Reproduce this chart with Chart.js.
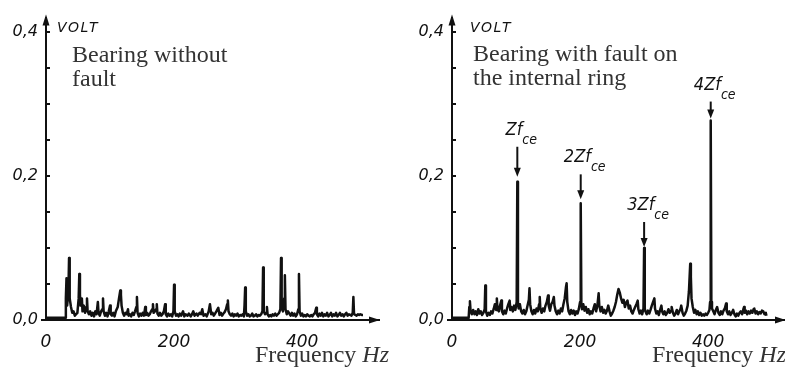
<!DOCTYPE html>
<html>
<head>
<meta charset="utf-8">
<script src="https://cdn.jsdelivr.net/npm/chart.js@4.4.1/dist/chart.umd.min.js"></script>
<style>
  body { margin: 0; background: #fff; }
  .wrap { position: relative; width: 785px; height: 370px; }
  canvas { position: absolute; top: 0; }
</style>
</head>
<body>
<div class="wrap">
  <canvas id="left" width="392" height="370" style="left:0"></canvas>
  <canvas id="right" width="393" height="370" style="left:392px"></canvas>
</div>
<script>
// spectrum of the healthy bearing: [frequency Hz, volt]
const leftSpectrum = [
  [0,0.003],[30,0.003],[31,0.03],[32,0.058],[33,0.02],[35,0.04],[36,0.086],[37,0.03],[39,0.018],[41,0.01],
  [43,0.012],[45,0.006],[47,0.008],[49,0.01],[51,0.03],[52,0.064],[53,0.035],[54,0.02],[56,0.03],[57,0.012],
  [59,0.02],[61,0.01],[63,0.018],[64,0.03],[65,0.012],[67,0.008],[69,0.012],[71,0.006],[73,0.01],[75,0.005],
  [77,0.012],[79,0.008],[81,0.025],[82,0.01],[84,0.006],[86,0.012],[88,0.015],[89,0.03],[90,0.012],[92,0.006],
  [94,0.01],[96,0.005],[98,0.012],[100,0.02],[101,0.008],[103,0.006],[105,0.01],[107,0.005],[109,0.012],[112,0.018],
  [114,0.03],[116,0.041],[117,0.035],[118,0.02],[120,0.01],[122,0.006],[124,0.01],[126,0.008],[128,0.015],[129,0.006],
  [131,0.008],[133,0.005],[135,0.01],[137,0.007],[139,0.012],[141,0.018],[142,0.032],[143,0.01],[145,0.005],[147,0.009],
  [149,0.006],[151,0.01],[153,0.006],[155,0.018],[156,0.007],[158,0.01],[160,0.006],[162,0.008],[164,0.012],[166,0.015],
  [167,0.022],[168,0.01],[170,0.012],[172,0.015],[173,0.022],[174,0.009],[176,0.006],[178,0.01],[180,0.006],[182,0.008],
  [184,0.012],[186,0.022],[187,0.008],[189,0.005],[191,0.009],[193,0.006],[195,0.008],[197,0.005],[199,0.012],[200,0.049],
  [201,0.012],[203,0.006],[205,0.008],[207,0.005],[209,0.009],[211,0.006],[214,0.012],[216,0.005],[218,0.008],[221,0.006],
  [223,0.009],[226,0.005],[228,0.008],[230,0.012],[232,0.006],[235,0.009],[237,0.006],[240,0.01],[242,0.008],[244,0.015],
  [246,0.006],[249,0.008],[251,0.005],[254,0.012],[256,0.022],[258,0.008],[260,0.01],[262,0.006],[264,0.009],[266,0.012],
  [269,0.017],[271,0.007],[273,0.01],[275,0.006],[277,0.009],[279,0.011],[281,0.015],[283,0.022],[284,0.027],[285,0.012],
  [287,0.008],[289,0.006],[291,0.009],[293,0.005],[295,0.008],[297,0.006],[299,0.009],[301,0.005],[303,0.007],[305,0.006],
  [307,0.008],[309,0.005],[310,0.02],[311,0.045],[312,0.012],[314,0.006],[316,0.008],[318,0.005],[320,0.006],[322,0.009],
  [324,0.005],[326,0.006],[328,0.008],[330,0.005],[332,0.007],[334,0.006],[336,0.008],[338,0.012],[339,0.073],[340,0.012],
  [342,0.008],[344,0.01],[345,0.018],[346,0.008],[348,0.005],[350,0.007],[352,0.005],[354,0.008],[356,0.006],[358,0.009],
  [360,0.006],[362,0.008],[364,0.01],[366,0.015],[367,0.086],[368,0.018],[370,0.012],[372,0.03],[373,0.062],[374,0.015],
  [376,0.008],[378,0.012],[380,0.009],[382,0.006],[384,0.01],[386,0.006],[388,0.009],[390,0.005],[392,0.008],[394,0.015],
  [395,0.064],[396,0.012],[398,0.006],[400,0.009],[402,0.005],[404,0.007],[406,0.005],[408,0.008],[410,0.006],[412,0.005],
  [414,0.007],[416,0.005],[418,0.008],[420,0.01],[422,0.017],[423,0.008],[425,0.005],[427,0.009],[429,0.006],[431,0.01],
  [433,0.005],[435,0.008],[437,0.006],[439,0.01],[441,0.005],[443,0.007],[445,0.01],[447,0.005],[449,0.008],[451,0.006],
  [453,0.01],[455,0.005],[457,0.007],[459,0.01],[461,0.006],[463,0.008],[465,0.005],[467,0.008],[469,0.01],[471,0.006],
  [473,0.008],[475,0.007],[477,0.006],[479,0.01],[480,0.032],[481,0.008],[483,0.007],[485,0.006],[487,0.008],[489,0.007],
  [491,0.008],[493,0.007],[495,0.007]
];

// spectrum of the bearing with inner ring fault: [frequency Hz, volt]
const rightSpectrum = [
  [0,0.003],[26,0.003],[27,0.018],[28,0.026],[29,0.012],[31,0.008],[33,0.014],[35,0.008],[37,0.012],[39,0.007],
  [41,0.015],[43,0.009],[45,0.012],[47,0.007],[49,0.01],[51,0.015],[52,0.048],[53,0.012],[55,0.006],[57,0.01],
  [59,0.007],[61,0.012],[63,0.009],[65,0.015],[67,0.022],[69,0.014],[70,0.03],[71,0.016],[73,0.012],[75,0.02],
  [77,0.027],[78,0.012],[80,0.008],[82,0.013],[84,0.009],[86,0.016],[88,0.022],[90,0.027],[91,0.014],[93,0.018],
  [95,0.012],[97,0.02],[99,0.014],[101,0.025],[102,0.192],[103,0.025],[104,0.016],[106,0.022],[108,0.012],[110,0.009],
  [112,0.014],[114,0.008],[116,0.012],[118,0.02],[120,0.028],[121,0.044],[122,0.022],[124,0.012],[126,0.008],[128,0.014],
  [130,0.009],[132,0.016],[134,0.012],[136,0.022],[137,0.032],[138,0.015],[140,0.01],[142,0.016],[144,0.012],[146,0.02],
  [148,0.025],[150,0.034],[151,0.02],[153,0.013],[155,0.022],[157,0.025],[159,0.032],[160,0.02],[162,0.012],[164,0.008],
  [166,0.013],[168,0.009],[170,0.016],[172,0.012],[174,0.022],[176,0.03],[178,0.046],[179,0.051],[180,0.025],[182,0.012],
  [184,0.008],[186,0.014],[188,0.009],[190,0.013],[192,0.007],[194,0.012],[196,0.009],[198,0.015],[200,0.025],[201,0.162],
  [202,0.022],[203,0.015],[205,0.022],[207,0.013],[209,0.018],[211,0.01],[213,0.015],[215,0.008],[217,0.012],[219,0.009],
  [221,0.016],[223,0.022],[225,0.012],[227,0.02],[229,0.037],[230,0.02],[232,0.012],[234,0.018],[236,0.01],[238,0.014],
  [240,0.009],[242,0.013],[244,0.02],[246,0.012],[248,0.006],[250,0.009],[252,0.013],[254,0.018],[256,0.025],[258,0.035],
  [260,0.043],[262,0.038],[264,0.03],[266,0.024],[268,0.028],[270,0.018],[272,0.024],[274,0.027],[276,0.016],[278,0.02],
  [280,0.012],[282,0.009],[284,0.014],[286,0.018],[288,0.022],[290,0.027],[291,0.015],[293,0.009],[295,0.013],[297,0.008],
  [299,0.016],[300,0.1],[301,0.016],[302,0.012],[304,0.008],[306,0.013],[308,0.009],[310,0.014],[312,0.02],[314,0.025],
  [316,0.03],[317,0.016],[319,0.009],[321,0.012],[323,0.007],[325,0.014],[327,0.02],[328,0.012],[330,0.008],[332,0.012],
  [334,0.007],[336,0.01],[338,0.015],[340,0.01],[342,0.013],[343,0.018],[345,0.01],[347,0.006],[349,0.009],[351,0.014],
  [353,0.008],[355,0.012],[357,0.016],[358,0.02],[360,0.01],[362,0.006],[364,0.009],[366,0.013],[368,0.02],[370,0.04],
  [372,0.078],[373,0.06],[374,0.03],[376,0.018],[378,0.01],[380,0.014],[382,0.008],[384,0.012],[386,0.007],[388,0.01],
  [390,0.006],[392,0.008],[394,0.006],[396,0.009],[398,0.007],[400,0.01],[402,0.014],[403,0.025],[404,0.277],[405,0.025],
  [406,0.016],[408,0.012],[410,0.008],[412,0.014],[414,0.018],[416,0.01],[418,0.007],[420,0.012],[422,0.008],[424,0.013],
  [426,0.016],[428,0.023],[429,0.012],[431,0.008],[433,0.012],[435,0.007],[437,0.01],[439,0.014],[441,0.008],[443,0.005],
  [445,0.009],[447,0.006],[449,0.01],[451,0.012],[453,0.008],[455,0.015],[456,0.018],[457,0.01],[459,0.013],[461,0.008],
  [463,0.012],[465,0.009],[467,0.013],[469,0.01],[471,0.015],[472,0.016],[474,0.009],[476,0.012],[478,0.008],[480,0.011],
  [482,0.009],[484,0.013],[486,0.012],[488,0.008],[490,0.01],[491,0.006]
];

const yTickValues = [0, 0.05, 0.1, 0.15, 0.2, 0.25, 0.3, 0.35, 0.4];
const yLabelValues = [0, 0.2, 0.4];
const xTickValues = [0, 200, 400];

// marked harmonics of the inner ring frequency
const harmonicNames = ['Z', '2Z', '3Z', '4Z'];
const harmonicHz = [102, 201, 300, 404];
const arrowLen = [30, 25, 25, 17];
const arrowGap = [5, 4, 1, 2];

const INK = '#111';
const HAND = "'DejaVu Sans'";
const MARK = "'DejaVu Sans Condensed'";

const decor = {
  id: 'decor',
  afterDraw(chart, args, o) {
    const { ctx, chartArea: a, scales: { x, y } } = chart;
    ctx.save();
    ctx.fillStyle = INK;
    ctx.strokeStyle = INK;

    // arrow heads of the axes
    ctx.beginPath();
    ctx.moveTo(a.left, a.top - 3);
    ctx.lineTo(a.left - 3.5, a.top + 8);
    ctx.lineTo(a.left + 3.5, a.top + 8);
    ctx.fill();
    ctx.beginPath();
    ctx.moveTo(a.right + 1, a.bottom);
    ctx.lineTo(a.right - 10, a.bottom - 3.5);
    ctx.lineTo(a.right - 10, a.bottom + 3.5);
    ctx.fill();
    ctx.lineWidth = 2;
    ctx.beginPath();
    ctx.moveTo(a.left - 5, a.bottom);
    ctx.lineTo(a.left, a.bottom);
    ctx.stroke();

    // minor ticks inside the y axis
    yTickValues.slice(1).forEach(v => {
      const py = y.getPixelForValue(v);
      ctx.beginPath();
      ctx.moveTo(a.left, py);
      ctx.lineTo(a.left + 4, py);
      ctx.stroke();
    });

    // VOLT
    ctx.font = 'italic 14px ' + HAND;
    ctx.letterSpacing = '1.5px';
    ctx.textBaseline = 'alphabetic';
    ctx.fillText('VOLT', o.voltX, 32);
    ctx.letterSpacing = '0px';

    // title
    ctx.fillStyle = '#333';
    ctx.font = "24px 'Liberation Serif'";
    o.title.forEach((line, i) => ctx.fillText(line, o.titleX, o.titleY + i * 24));

    // axis name
    ctx.fillText('Frequency ', o.freqX, 362);
    const w = ctx.measureText('Frequency ').width;
    ctx.font = "italic 24px 'Liberation Serif'";
    ctx.fillText('Hz', o.freqX + w, 362);

    // harmonic markers
    if (o.harmonics) {
      ctx.fillStyle = INK;
      harmonicHz.forEach((hz, i) => {
        const hit = rightSpectrum.find(p => p[0] === hz);
        const px = x.getPixelForValue(hz);
        const tip = y.getPixelForValue(hit[1]) - arrowGap[i];
        const top = tip - arrowLen[i];
        ctx.lineWidth = 2;
        ctx.beginPath();
        ctx.moveTo(px, top);
        ctx.lineTo(px, tip - 6);
        ctx.stroke();
        ctx.beginPath();
        ctx.moveTo(px, tip);
        ctx.lineTo(px - 3.5, tip - 9);
        ctx.lineTo(px + 3.5, tip - 9);
        ctx.fill();

        const main = harmonicNames[i] + 'f';
        ctx.font = 'italic 18px ' + MARK;
        const wm = ctx.measureText(main).width;
        ctx.font = 'italic 14px ' + MARK;
        const ws = ctx.measureText('ce').width;
        const sx = px + 4 - (wm + ws) / 2;
        ctx.font = 'italic 18px ' + MARK;
        ctx.fillText(main, sx, top - 12);
        ctx.font = 'italic 14px ' + MARK;
        ctx.fillText('ce', sx + wm, top - 3);
      });
    }
    ctx.restore();
  }
};

function makeChart(id, spectrum, leftWidth, rightPad, deco) {
  new Chart(document.getElementById(id), {
    type: 'line',
    data: {
      datasets: [{
        data: spectrum.map(p => ({ x: p[0], y: p[1] })),
        borderColor: INK,
        borderWidth: 2.5,
        borderJoinStyle: 'round',
        pointRadius: 0,
        tension: 0,
        clip: false,
      }],
    },
    options: {
      responsive: false,
      animation: false,
      layout: { padding: { top: 13, right: rightPad, left: 0, bottom: 0 } },
      plugins: { legend: { display: false }, tooltip: { enabled: false }, decor: deco },
      scales: {
        x: {
          type: 'linear',
          min: 0,
          max: 520,
          afterBuildTicks: s => { s.ticks = xTickValues.map(v => ({ value: v })); },
          afterFit: s => { s.height = 50; },
          grid: { display: false },
          border: { display: true, color: INK, width: 2 },
          ticks: {
            color: INK,
            padding: 4,
            maxRotation: 0,
            font: { family: HAND, size: 17, style: 'italic' },
            callback: v => String(v),
          },
        },
        y: {
          min: 0,
          max: 0.42,
          afterBuildTicks: s => { s.ticks = yTickValues.map(v => ({ value: v })); },
          afterFit: s => { s.width = leftWidth; },
          grid: { display: false, drawTicks: false },
          border: { display: true, color: INK, width: 2 },
          ticks: {
            color: INK,
            padding: 8,
            font: { family: HAND, size: 16, style: 'italic' },
            callback: v => yLabelValues.some(l => Math.abs(l - v) < 1e-9) ? v.toFixed(1).replace('.', ',') : '',
          },
        },
      },
    },
    plugins: [decor],
  });
}

makeChart('left', leftSpectrum, 46, 13, {
  title: ['Bearing without', 'fault'], titleX: 72, titleY: 62, voltX: 57, freqX: 255, harmonics: false,
});
makeChart('right', rightSpectrum, 60, 0, {
  title: ['Bearing with fault on', 'the internal ring'], titleX: 81, titleY: 61, voltX: 78, freqX: 260, harmonics: true,
});
</script>
</body>
</html>
